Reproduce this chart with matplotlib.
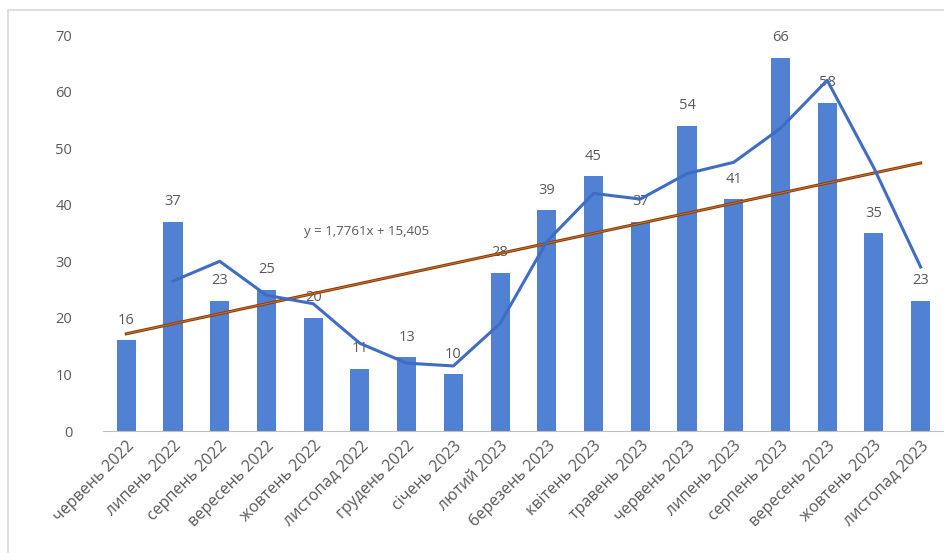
import numpy as np
import matplotlib.pyplot as plt
from matplotlib.patches import Rectangle

plt.rcParams['font.family'] = ['Open Sans', 'DejaVu Sans']

# Дані
months = ["червень 2022", "липень 2022", "серпень 2022", "вересень 2022",
          "жовтень 2022", "листопад 2022", "грудень 2022", "січень 2023",
          "лютий 2023", "березень 2023", "квітень 2023", "травень 2023",
          "червень 2023", "липень 2023", "серпень 2023", "вересень 2023",
          "жовтень 2023", "листопад 2023"]
values = [16, 37, 23, 25, 20, 11, 13, 10, 28, 39, 45, 37, 54, 41, 66, 58, 35, 23]
# ковзне середнє (2 періоди), починається з другого місяця
avg_values = [26.5, 30, 24, 22.5, 15.5, 12, 11.5, 19, 33.5, 42, 41, 45.5,
              47.5, 53.5, 62, 46.5, 29]
slope, intercept = 1.7761, 15.405

gray = "#595959"
x = np.arange(len(months))

fig = plt.figure(figsize=(9.44, 5.53), dpi=100)
ax = fig.add_axes([0.109, 0.2206, 0.891, 0.7161])

ax.bar(x, values, width=0.41, color="#5081d3", zorder=2)
for i, v in enumerate(values):
    ax.annotate(str(v), (x[i], v), xytext=(0, 9), textcoords="offset points",
                ha="center", va="bottom", fontsize=10.5, color=gray, zorder=1)

ax.plot(x[1:], avg_values, color="#3f6cc4", lw=2.2, zorder=4)

trend_x = np.array([x[0], x[-1]])
ax.plot(trend_x, slope * (trend_x + 1) + intercept, color="#8a3f10", lw=2.2, zorder=3)
ax.plot(trend_x, slope * (trend_x + 1) + intercept, color="#d77a2a", lw=0.6, zorder=3)
ax.text(3.8, 35.3, "y = 1,7761x + 15,405", fontsize=9.5, color=gray, va="center")

ax.set_xlim(-0.5, 17.5)
ax.set_ylim(0, 70)
ax.set_yticks(range(0, 71, 10))
ax.set_xticks(x)
ax.set_xticklabels(months, rotation=45, ha="right", rotation_mode="anchor",
                   fontsize=11.5)
ax.tick_params(axis="both", length=0, colors=gray)
ax.tick_params(axis="y", pad=22, labelsize=10.5)
ax.tick_params(axis="x", pad=5)
for s in ["top", "right", "left"]:
    ax.spines[s].set_visible(False)
ax.spines["bottom"].set_color("#bfbfbf")

fig.patches.append(Rectangle((8 / 944, -0.05), 1.1, 1 - 10 / 553 + 0.05,
                             transform=fig.transFigure, fill=False,
                             edgecolor="#d9d9d9", lw=1.2))

fig.savefig("out.png", dpi=100)
